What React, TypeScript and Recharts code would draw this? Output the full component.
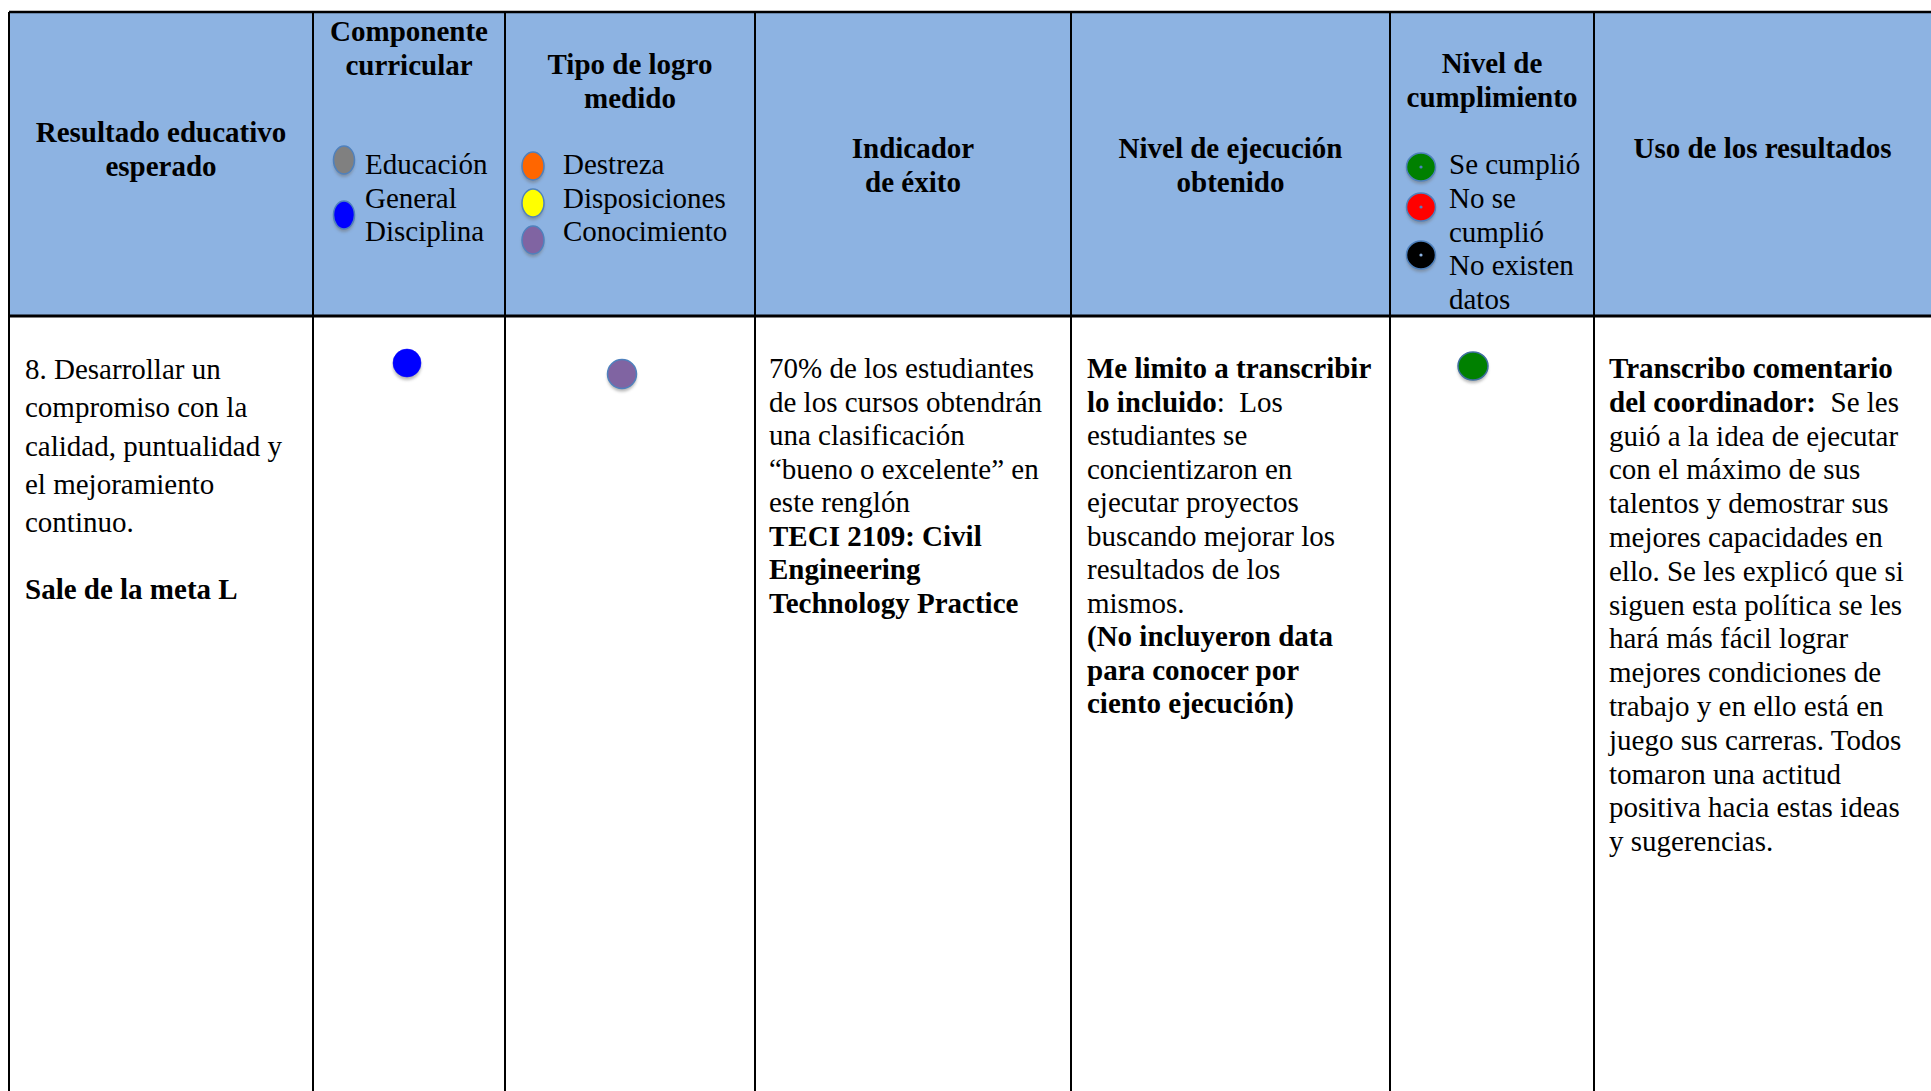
import { ScatterChart, Scatter, XAxis, YAxis, ReferenceArea, ReferenceLine } from 'recharts';

// ---- content ----
const headers: string[][] = [
  ['Resultado educativo', 'esperado'],
  ['Componente', 'curricular'],
  ['Tipo de logro', 'medido'],
  ['Indicador', 'de éxito'],
  ['Nivel de ejecución', 'obtenido'],
  ['Nivel de', 'cumplimiento'],
  ['Uso de los resultados'],
];

const componenteItems = ['Educación General', 'Disciplina'];
const componenteColors = ['#808080', '#0000ff'];
const componenteLines = ['Educación', 'General', 'Disciplina'];

const logroItems = ['Destreza', 'Disposiciones', 'Conocimiento'];
const logroColors = ['#ff6600', '#ffff00', '#8064a2'];

const cumplimientoItems = ['Se cumplió', 'No se cumplió', 'No existen datos'];
const cumplimientoColors = ['#008000', '#ff0000', '#000000'];
const cumplimientoLines = ['Se cumplió', 'No se', 'cumplió', 'No existen', 'datos'];

// the one row of results
const rowComponente = 'Disciplina';
const rowLogro = 'Conocimiento';
const rowCumplimiento = 'Se cumplió';

type Seg = [string, boolean];
const resultadoText: Seg[][] = [
  [['8. Desarrollar un', false]],
  [['compromiso con la', false]],
  [['calidad, puntualidad y', false]],
  [['el mejoramiento', false]],
  [['continuo.', false]],
];
const metaText = 'Sale de la meta L';

const indicadorText: Seg[][] = [
  [['70% de los estudiantes', false]],
  [['de los cursos obtendrán', false]],
  [['una clasificación', false]],
  [['“bueno o excelente” en', false]],
  [['este renglón', false]],
  [['TECI 2109: Civil', true]],
  [['Engineering', true]],
  [['Technology Practice', true]],
];

const ejecucionText: Seg[][] = [
  [['Me limito a transcribir', true]],
  [['lo incluido', true], [':  Los', false]],
  [['estudiantes se', false]],
  [['concientizaron en', false]],
  [['ejecutar proyectos', false]],
  [['buscando mejorar los', false]],
  [['resultados de los', false]],
  [['mismos.', false]],
  [['(No incluyeron data', true]],
  [['para conocer por', true]],
  [['ciento ejecución)', true]],
];

const usoText: Seg[][] = [
  [['Transcribo comentario', true]],
  [['del coordinador:', true], ['  Se les', false]],
  [['guió a la idea de ejecutar', false]],
  [['con el máximo de sus', false]],
  [['talentos y demostrar sus', false]],
  [['mejores capacidades en', false]],
  [['ello. Se les explicó que si', false]],
  [['siguen esta política se les', false]],
  [['hará más fácil lograr', false]],
  [['mejores condiciones de', false]],
  [['trabajo y en ello está en', false]],
  [['juego sus carreras. Todos', false]],
  [['tomaron una actitud', false]],
  [['positiva hacia estas ideas', false]],
  [['y sugerencias.', false]],
];

// ---- layout ----
const W = 1931;
const H = 1091;
const colEdges = [9, 313, 505, 755, 1071, 1390, 1594, 1931];
const tableTop = 12;
const headerBottom = 316;
const headerFill = '#8db3e2';
const FONT = "'Liberation Serif', 'Times New Roman', serif";
const FS = 29;

const headerTops = [116, 15, 48, 132, 132, 47, 132];

const legendDots = {
  componente: { x: 344, ys: [160, 215], rx: 10.5, ry: 14 },
  logro: { x: 533, ys: [166, 203, 240], rx: 11, ry: 14 },
  cumplimiento: { x: 1421, ys: [167, 207, 255], rx: 14.5, ry: 14 },
};
const markX = { componente: 407, logro: 622, cumplimiento: 1473 };
const markY = { componente: 363, logro: 374, cumplimiento: 366 };

const ring = '#4f81bd';

const dots = [
  ...componenteItems.map((name, i) => ({
    name, x: legendDots.componente.x, y: legendDots.componente.ys[i], color: componenteColors[i],
    rx: legendDots.componente.rx, ry: legendDots.componente.ry, ring, pip: '',
  })),
  ...logroItems.map((name, i) => ({
    name, x: legendDots.logro.x, y: legendDots.logro.ys[i], color: logroColors[i],
    rx: legendDots.logro.rx, ry: legendDots.logro.ry, ring, pip: '',
  })),
  ...cumplimientoItems.map((name, i) => ({
    name, x: legendDots.cumplimiento.x, y: legendDots.cumplimiento.ys[i], color: cumplimientoColors[i],
    rx: legendDots.cumplimiento.rx, ry: legendDots.cumplimiento.ry, ring, pip: i === 2 ? '#8db3e2' : ring,
  })),
  {
    name: rowComponente, x: markX.componente, y: markY.componente,
    color: componenteColors[componenteItems.indexOf(rowComponente)], rx: 14, ry: 14, ring: '', pip: '',
  },
  {
    name: rowLogro, x: markX.logro, y: markY.logro,
    color: logroColors[logroItems.indexOf(rowLogro)], rx: 14.5, ry: 14.5, ring, pip: '',
  },
  {
    name: rowCumplimiento, x: markX.cumplimiento, y: markY.cumplimiento,
    color: cumplimientoColors[cumplimientoItems.indexOf(rowCumplimiento)], rx: 15, ry: 14, ring: '#3f6f9f', pip: '',
  },
];

const DotShape = (props: any) => {
  const { cx, cy, payload } = props;
  if (cx == null || cy == null) return null;
  const { color, rx, ry, pip } = payload;
  return (
    <g>
      <ellipse cx={cx} cy={cy + 3} rx={rx} ry={ry} fill="#6f6f6f" opacity={0.5} style={{ filter: 'blur(1.5px)' }} />
      <ellipse
        cx={cx}
        cy={cy}
        rx={rx}
        ry={ry}
        fill={color}
        stroke={payload.ring || color}
        strokeWidth={payload.ring ? 1.5 : 0.5}
      />
      {pip && <circle cx={cx} cy={cy} r={1.6} fill={pip} />}
    </g>
  );
};

function Lines({ lines, left, top, lh }: { lines: Seg[][]; left: number; top: number; lh: number }) {
  return (
    <div style={{ position: 'absolute', left, top, lineHeight: `${lh}px`, whiteSpace: 'pre' }}>
      {lines.map((line, i) => (
        <div key={i}>
          {line.map(([t, b], j) => (
            <span key={j} style={{ fontWeight: b ? 700 : 400 }}>{t}</span>
          ))}
        </div>
      ))}
    </div>
  );
}

const plain = (arr: string[]): Seg[][] => arr.map((t) => [[t, false]]);

export default function App() {
  const vLines = colEdges.slice(0, -1);
  return (
    <div
      style={{
        position: 'absolute', left: 0, top: 0, width: W, height: H, overflow: 'hidden',
        background: '#fff', fontFamily: FONT, fontSize: FS, color: '#000',
      }}
    >
      <ScatterChart width={W} height={H} margin={{ top: 0, right: 0, bottom: 0, left: 0 }}>
        <XAxis type="number" dataKey="x" domain={[0, W]} allowDataOverflow hide />
        <YAxis type="number" dataKey="y" domain={[0, H]} allowDataOverflow reversed hide />
        <ReferenceArea
          x1={colEdges[0]}
          x2={colEdges[colEdges.length - 1]}
          y1={tableTop}
          y2={headerBottom}
          fill={headerFill}
          fillOpacity={1}
          stroke="none"
          ifOverflow="visible"
        />
        {vLines.map((x) => (
          <ReferenceLine
            key={x}
            segment={[{ x, y: tableTop }, { x, y: H }]}
            stroke="#000"
            strokeWidth={2}
            ifOverflow="visible"
          />
        ))}
        <ReferenceLine
          segment={[{ x: colEdges[0], y: tableTop }, { x: W, y: tableTop }]}
          stroke="#000"
          strokeWidth={2.5}
          ifOverflow="visible"
        />
        <ReferenceLine
          segment={[{ x: colEdges[0], y: headerBottom }, { x: W, y: headerBottom }]}
          stroke="#000"
          strokeWidth={3}
          ifOverflow="visible"
        />
        <Scatter data={dots} shape={DotShape} isAnimationActive={false} />
      </ScatterChart>

      {headers.map((lines, i) => (
        <div
          key={i}
          style={{
            position: 'absolute', left: colEdges[i], width: colEdges[i + 1] - colEdges[i], top: headerTops[i],
            textAlign: 'center', fontWeight: 700, lineHeight: '33.7px', whiteSpace: 'pre',
          }}
        >
          {lines.map((t) => (
            <div key={t}>{t}</div>
          ))}
        </div>
      ))}

      <Lines lines={plain(componenteLines)} left={365} top={148} lh={33.7} />
      <Lines lines={plain(logroItems)} left={563} top={148} lh={33.7} />
      <Lines lines={plain(cumplimientoLines)} left={1449} top={148} lh={33.75} />

      <Lines lines={resultadoText} left={25} top={350} lh={38.3} />
      <Lines lines={[[[metaText, true]]]} left={25} top={570} lh={38.3} />
      <Lines lines={indicadorText} left={769} top={352} lh={33.5} />
      <Lines lines={ejecucionText} left={1087} top={352} lh={33.5} />
      <Lines lines={usoText} left={1609} top={352} lh={33.8} />
    </div>
  );
}
